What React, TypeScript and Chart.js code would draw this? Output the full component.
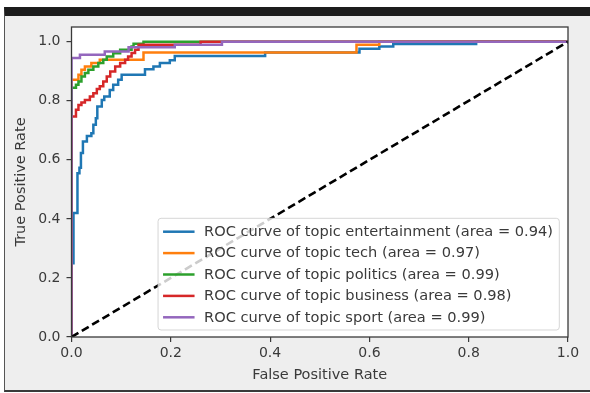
import React, { useEffect, useRef } from "react";
import { Chart, registerables } from "chart.js";

Chart.register(...registerables);

// ---------- data ----------
const topicNames = ["entertainment", "tech", "politics", "business", "sport"];
const areaValues = [0.94, 0.97, 0.99, 0.98, 0.99];
const lineColors = ["#1f77b4", "#ff7f0e", "#2ca02c", "#d62728", "#9467bd"];

const entertainmentFpr = [0, 0, 0.004, 0.004, 0.012, 0.012, 0.016, 0.016, 0.019, 0.019, 0.023, 0.023, 0.031, 0.031, 0.04, 0.04, 0.044, 0.044, 0.049, 0.049, 0.052, 0.052, 0.061, 0.061, 0.066, 0.066, 0.077, 0.077, 0.084, 0.084, 0.094, 0.094, 0.101, 0.101, 0.148, 0.148, 0.165, 0.165, 0.178, 0.178, 0.198, 0.198, 0.208, 0.208, 0.39, 0.39, 0.58, 0.58, 0.62, 0.62, 0.648, 0.648, 0.815, 0.815, 1.0];
const entertainmentTpr = [0, 0.25, 0.25, 0.42, 0.42, 0.555, 0.555, 0.573, 0.573, 0.623, 0.623, 0.662, 0.662, 0.681, 0.681, 0.69, 0.69, 0.719, 0.719, 0.741, 0.741, 0.781, 0.781, 0.803, 0.803, 0.815, 0.815, 0.837, 0.837, 0.854, 0.854, 0.871, 0.871, 0.888, 0.888, 0.907, 0.907, 0.916, 0.916, 0.928, 0.928, 0.937, 0.937, 0.952, 0.952, 0.964, 0.964, 0.976, 0.976, 0.984, 0.984, 0.992, 0.992, 1.0, 1.0];

const techFpr = [0, 0, 0.014, 0.014, 0.02, 0.02, 0.027, 0.027, 0.04, 0.04, 0.057, 0.057, 0.145, 0.145, 0.574, 0.574, 0.62, 0.62, 1.0];
const techTpr = [0, 0.871, 0.871, 0.888, 0.888, 0.905, 0.905, 0.916, 0.916, 0.928, 0.928, 0.939, 0.939, 0.964, 0.964, 0.99, 0.99, 1.0, 1.0];

const politicsFpr = [0, 0, 0.009, 0.009, 0.014, 0.014, 0.02, 0.02, 0.027, 0.027, 0.034, 0.034, 0.044, 0.044, 0.054, 0.054, 0.064, 0.064, 0.071, 0.071, 0.084, 0.084, 0.098, 0.098, 0.121, 0.121, 0.125, 0.125, 0.145, 0.145, 1.0];
const politicsTpr = [0, 0.844, 0.844, 0.854, 0.854, 0.865, 0.865, 0.882, 0.882, 0.894, 0.894, 0.905, 0.905, 0.916, 0.916, 0.928, 0.928, 0.939, 0.939, 0.95, 0.95, 0.961, 0.961, 0.973, 0.973, 0.984, 0.984, 0.993, 0.993, 1.0, 1.0];

const businessFpr = [0, 0, 0.009, 0.009, 0.014, 0.014, 0.02, 0.02, 0.027, 0.027, 0.037, 0.037, 0.044, 0.044, 0.051, 0.051, 0.057, 0.057, 0.064, 0.064, 0.071, 0.071, 0.078, 0.078, 0.088, 0.088, 0.098, 0.098, 0.108, 0.108, 0.114, 0.114, 0.121, 0.121, 0.128, 0.128, 0.135, 0.135, 0.26, 0.26, 1.0];
const businessTpr = [0, 0.747, 0.747, 0.77, 0.77, 0.786, 0.786, 0.794, 0.794, 0.803, 0.803, 0.815, 0.815, 0.826, 0.826, 0.84, 0.84, 0.849, 0.849, 0.865, 0.865, 0.882, 0.882, 0.899, 0.899, 0.916, 0.916, 0.928, 0.928, 0.939, 0.939, 0.95, 0.95, 0.962, 0.962, 0.973, 0.973, 0.99, 0.99, 1.0, 1.0];

const sportFpr = [0, 0, 0.017, 0.017, 0.067, 0.067, 0.115, 0.115, 0.208, 0.208, 0.303, 0.303, 1.0];
const sportTpr = [0, 0.945, 0.945, 0.956, 0.956, 0.967, 0.967, 0.981, 0.981, 0.99, 0.99, 1.0, 1.0];

const chanceFpr = [0, 1];
const chanceTpr = [0, 1];

const xTickValues = [0, 0.2, 0.4, 0.6, 0.8, 1.0];
const yTickValues = [0, 0.2, 0.4, 0.6, 0.8, 1.0];

const fprSeries = [entertainmentFpr, techFpr, politicsFpr, businessFpr, sportFpr];
const tprSeries = [entertainmentTpr, techTpr, politicsTpr, businessTpr, sportTpr];

// ---------- styling ----------
const FONT = "DejaVu Sans";
const TEXT_COLOR = "#3a3a3a";
const LINE_W = 2.5;

const toPoints = (xs: number[], ys: number[]) => xs.map((x, i) => ({ x, y: ys[i] }));

const plotBackground = {
  id: "plotBackground",
  beforeDraw(chart: any) {
    const { ctx, chartArea } = chart;
    ctx.save();
    ctx.fillStyle = "#ffffff";
    ctx.fillRect(chartArea.left, chartArea.top, chartArea.right - chartArea.left, chartArea.bottom - chartArea.top);
    ctx.restore();
  },
};

const plotFrame = {
  id: "plotFrame",
  afterDatasetsDraw(chart: any) {
    const { ctx, chartArea } = chart;
    ctx.save();
    ctx.strokeStyle = "#3a3a3a";
    ctx.lineWidth = 1.3;
    ctx.strokeRect(chartArea.left, chartArea.top, chartArea.right - chartArea.left, chartArea.bottom - chartArea.top);
    ctx.restore();
  },
};

const rocLegend = {
  id: "rocLegend",
  afterDraw(chart: any) {
    const { ctx, chartArea } = chart;
    const items = chart.data.datasets.slice(0, topicNames.length);
    const fontSize = 14.6;
    ctx.save();
    ctx.font = `${fontSize}px "${FONT}"`;
    let maxW = 0;
    items.forEach((d: any) => {
      maxW = Math.max(maxW, ctx.measureText(d.label).width);
    });
    const padL = 5;
    const handleLen = 31.5;
    const gap = 9.5;
    const padR = 6.3;
    const rowH = 21.4;
    const firstRow = 13.4;
    const boxH = firstRow + rowH * (items.length - 1) + 12.7;
    const boxW = padL + handleLen + gap + maxW + padR;
    const right = chartArea.right - 8.7;
    const bottom = chartArea.bottom - 7;
    const left = right - boxW;
    const top = bottom - boxH;

    ctx.beginPath();
    (ctx as any).roundRect(left, top, boxW, boxH, 3);
    ctx.fillStyle = "rgba(255,255,255,0.8)";
    ctx.fill();
    ctx.strokeStyle = "rgba(204,204,204,0.8)";
    ctx.lineWidth = 1;
    ctx.stroke();

    items.forEach((d: any, i: number) => {
      const cy = top + firstRow + i * rowH;
      ctx.beginPath();
      ctx.moveTo(left + padL, cy);
      ctx.lineTo(left + padL + handleLen, cy);
      ctx.strokeStyle = d.borderColor;
      ctx.lineWidth = LINE_W;
      ctx.stroke();
      ctx.fillStyle = TEXT_COLOR;
      ctx.textBaseline = "middle";
      ctx.textAlign = "left";
      ctx.fillText(d.label, left + padL + handleLen + gap, cy + 0.5);
    });
    ctx.restore();
  },
};

export default function App() {
  const canvasRef = useRef<HTMLCanvasElement | null>(null);

  useEffect(() => {
    if (!canvasRef.current) return;
    const datasets: any[] = topicNames.map((name, i) => ({
      label: `ROC curve of topic ${name} (area = ${areaValues[i].toFixed(2)})`,
      data: toPoints(fprSeries[i], tprSeries[i]),
      borderColor: lineColors[i],
      backgroundColor: lineColors[i],
      borderWidth: LINE_W,
      pointRadius: 0,
      tension: 0,
      fill: false,
      order: topicNames.length - i,
    }));
    datasets.push({
      label: "chance",
      data: toPoints(chanceFpr, chanceTpr),
      borderColor: "#000000",
      borderWidth: 2.6,
      borderDash: [8, 4],
      pointRadius: 0,
      tension: 0,
      fill: false,
      order: 0,
    });

    const tickFont = { family: FONT, size: 14 };
    const titleFont = { family: FONT, size: 14.5 };

    const chart = new Chart(canvasRef.current, {
      type: "line",
      data: { datasets },
      plugins: [plotBackground, plotFrame, rocLegend],
      options: {
        animation: false,
        responsive: false,
        devicePixelRatio: 1,
        layout: { padding: { left: 12.8, top: 27, right: 22, bottom: 9.3 } },
        plugins: { legend: { display: false }, tooltip: { enabled: false } },
        scales: {
          x: {
            type: "linear",
            min: 0,
            max: 1,
            afterBuildTicks: (s: any) => {
              s.ticks = xTickValues.map((v) => ({ value: v }));
            },
            afterFit: (s: any) => {
              s.height = 46.7;
            },
            ticks: {
              callback: (v: any) => Number(v).toFixed(1),
              font: tickFont,
              color: TEXT_COLOR,
              padding: 3,
              maxRotation: 0,
              autoSkip: false,
            },
            grid: { drawOnChartArea: false, drawTicks: true, tickLength: 5, color: "#3a3a3a", lineWidth: 1.2 },
            border: { display: false },
            title: { display: true, text: "False Positive Rate", font: titleFont, color: TEXT_COLOR, padding: 0 },
          },
          y: {
            type: "linear",
            min: 0,
            max: 1.05,
            afterBuildTicks: (s: any) => {
              s.ticks = yTickValues.map((v) => ({ value: v }));
            },
            afterFit: (s: any) => {
              s.width = 58.7;
            },
            ticks: {
              callback: (v: any) => Number(v).toFixed(1),
              font: tickFont,
              color: TEXT_COLOR,
              padding: 6,
              autoSkip: false,
            },
            grid: { drawOnChartArea: false, drawTicks: true, tickLength: 5, color: "#3a3a3a", lineWidth: 1.2 },
            border: { display: false },
            title: { display: true, text: "True Positive Rate", font: titleFont, color: TEXT_COLOR, padding: 0 },
          },
        },
      } as any,
    });
    return () => chart.destroy();
  }, []);

  return (
    <div style={{ position: "absolute", left: 0, top: 0, width: 590, height: 393, background: "#ffffff", overflow: "hidden" }}>
      <div
        style={{
          position: "absolute",
          left: 4,
          top: 7,
          width: 586,
          height: 385,
          boxSizing: "border-box",
          background: "#eeeeee",
          borderTop: "9px solid #1c1c1c",
          borderLeft: "1.5px solid #555555",
          borderBottom: "2px solid #3a3a3a",
        }}
      />
      <canvas ref={canvasRef} width={590} height={393} style={{ position: "absolute", left: 0, top: 0, width: 590, height: 393 }} />
    </div>
  );
}
